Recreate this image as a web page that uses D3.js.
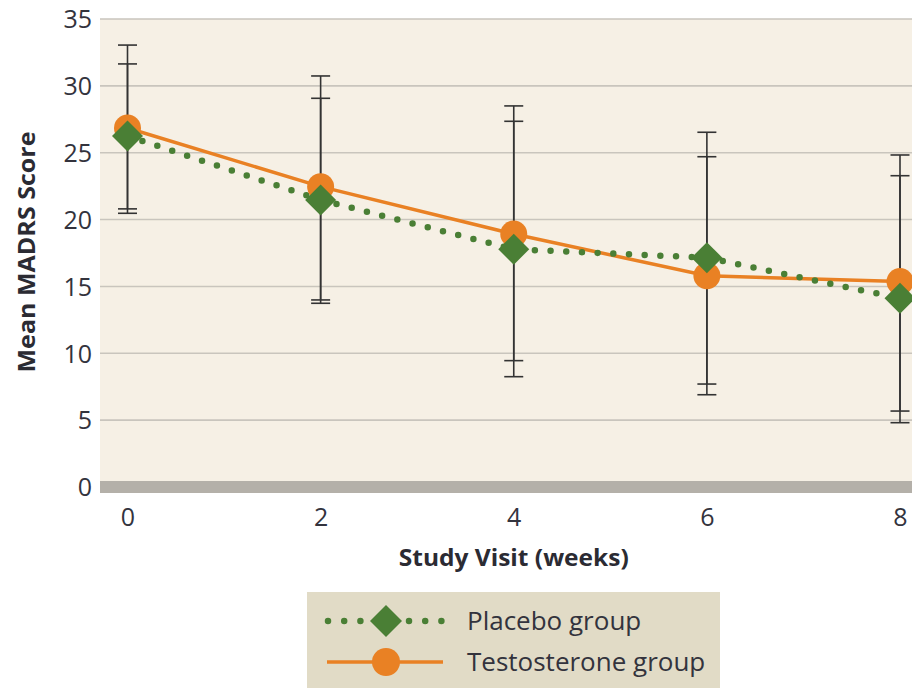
<!DOCTYPE html>
<html><head><meta charset="utf-8">
<script src="https://cdn.jsdelivr.net/npm/d3@7"></script>
<style>body{margin:0;background:#fff}svg{display:block}</style>
</head><body>
<svg id="chart" width="912" height="688"></svg>
<script>
const weeks = [0, 2, 4, 6, 8];
const placeboMean = [26.25, 21.47, 17.78, 17.15, 14.11];
const placeboUpper = [31.64, 29.07, 27.35, 26.53, 23.28];
const placeboLower = [20.8, 13.74, 8.25, 7.7, 4.81];
const testoMean = [26.85, 22.46, 18.92, 15.8, 15.36];
const testoUpper = [33.05, 30.74, 28.5, 24.7, 24.83];
const testoLower = [20.47, 13.99, 9.45, 6.9, 5.68];
const yTicks = [0, 5, 10, 15, 20, 25, 30, 35];
const xTicks = [0, 2, 4, 6, 8];
const seriesNames = ["Placebo group", "Testosterone group"];

const green = "#4a7f35", orange = "#e98124";
const font = "'Open Sans', sans-serif";
const svg = d3.select("#chart");
const x = d3.scaleLinear().domain([0, 8]).range([127.5, 900]);
const y = d3.scaleLinear().domain([0, 35]).range([487, 19]);
const left = 100, right = 912;

// plot background
svg.append("rect").attr("x", left).attr("y", y(35)).attr("width", right - left)
  .attr("height", y(0) - y(35)).attr("fill", "#f6f0e5");

// gridlines
svg.append("g").selectAll("line").data(yTicks.filter(d => d > 0)).join("line")
  .attr("x1", left).attr("x2", right).attr("y1", d => y(d)).attr("y2", d => y(d))
  .attr("stroke", "#c9c5bd").attr("stroke-width", 1.6);
// zero band
svg.append("rect").attr("x", left).attr("y", y(0) - 6).attr("width", right - left)
  .attr("height", 12).attr("fill", "#b4b0a9");

// y axis labels
const yAxis = svg.append("g").attr("transform", `translate(${left},0)`)
  .call(d3.axisLeft(y).tickValues(yTicks).tickSize(0).tickPadding(8));
yAxis.select(".domain").remove();
yAxis.selectAll("text").attr("font-family", font).attr("font-size", 25)
  .attr("fill", "#33333d").attr("dy", "0.35em");

// x axis labels
const xAxis = svg.append("g").attr("transform", `translate(0,${y(0)})`)
  .call(d3.axisBottom(x).tickValues(xTicks).tickSize(0).tickPadding(0).tickFormat(d3.format("d")));
xAxis.select(".domain").remove();
xAxis.selectAll("text").attr("font-family", font).attr("font-size", 25)
  .attr("fill", "#33333d").attr("dy", null).attr("y", 39);

// axis titles
svg.append("text").attr("x", x(4)).attr("y", 566).attr("text-anchor", "middle")
  .attr("font-family", font).attr("font-weight", 700).attr("font-size", 23)
  .attr("textLength", 230).attr("lengthAdjust", "spacingAndGlyphs")
  .attr("fill", "#2b2b33").text("Study Visit (weeks)");
svg.append("text").attr("transform", `translate(35,252) rotate(-90)`).attr("text-anchor", "middle")
  .attr("font-family", font).attr("font-weight", 700).attr("font-size", 23)
  .attr("textLength", 241).attr("lengthAdjust", "spacingAndGlyphs")
  .attr("fill", "#2b2b33").text("Mean MADRS Score");

// error bars
const capW = 9.5;
function errBars(upper, lower) {
  const g = svg.append("g").attr("stroke", "#333").attr("stroke-width", 1.6);
  weeks.forEach((w, i) => {
    g.append("line").attr("x1", x(w)).attr("x2", x(w)).attr("y1", y(upper[i])).attr("y2", y(lower[i]));
    [upper[i], lower[i]].forEach(v => g.append("line").attr("x1", x(w) - capW).attr("x2", x(w) + capW)
      .attr("y1", y(v)).attr("y2", y(v)));
  });
}
errBars(testoUpper, testoLower);
errBars(placeboUpper, placeboLower);

const line = d3.line().x(d => x(d[0])).y(d => y(d[1]));
svg.append("path").datum(weeks.map((w, i) => [w, testoMean[i]])).attr("d", line)
  .attr("fill", "none").attr("stroke", orange).attr("stroke-width", 3.5);
svg.append("path").datum(weeks.map((w, i) => [w, placeboMean[i]])).attr("d", line)
  .attr("fill", "none").attr("stroke", green).attr("stroke-width", 6.5)
  .attr("stroke-linecap", "round").attr("stroke-dasharray", "0 15.7");

svg.append("g").selectAll("circle").data(weeks).join("circle")
  .attr("cx", d => x(d)).attr("cy", (d, i) => y(testoMean[i])).attr("r", 13.5).attr("fill", orange);
const diamond = (cx, cy, r) => `M${cx},${cy - r}L${cx + r},${cy}L${cx},${cy + r}L${cx - r},${cy}Z`;
svg.append("g").selectAll("path").data(weeks).join("path")
  .attr("d", (d, i) => diamond(x(d), y(placeboMean[i]), 15.5)).attr("fill", green);

// legend
const lg = svg.append("g");
lg.append("rect").attr("x", 307).attr("y", 592).attr("width", 413).attr("height", 100).attr("fill", "#e1dbc6");
lg.append("line").attr("x1", 328).attr("x2", 443).attr("y1", 621).attr("y2", 621)
  .attr("stroke", green).attr("stroke-width", 6.5).attr("stroke-linecap", "round").attr("stroke-dasharray", "0 16.2");
lg.append("path").attr("d", diamond(386, 621, 16)).attr("fill", green);
lg.append("line").attr("x1", 327).attr("x2", 443).attr("y1", 662).attr("y2", 662)
  .attr("stroke", orange).attr("stroke-width", 3.5);
lg.append("circle").attr("cx", 386).attr("cy", 662).attr("r", 14).attr("fill", orange);
lg.selectAll("text.lt").data(seriesNames).join("text").attr("class", "lt")
  .attr("x", 467).attr("y", (d, i) => 621 + i * 41).attr("dy", "0.35em")
  .attr("font-family", font).attr("font-size", 26).attr("fill", "#33333d").text(d => d);
</script>
</body></html>
